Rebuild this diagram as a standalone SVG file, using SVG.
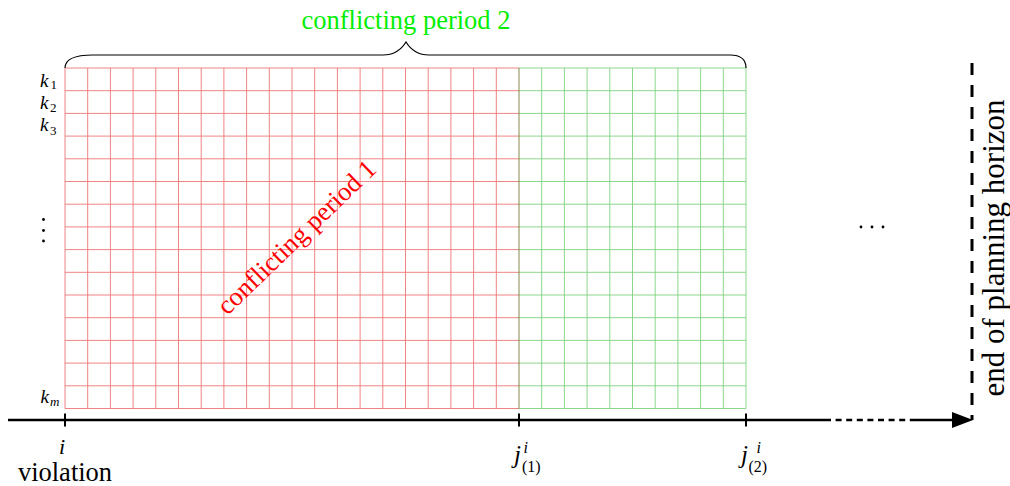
<svg xmlns="http://www.w3.org/2000/svg" width="1010" height="486" viewBox="0 0 1010 486">
<style>
text{font-family:"Liberation Serif","Times New Roman",serif;fill:#000}
.it{font-style:italic}
.rg{stroke:#ee7676;stroke-width:0.9;fill:none}
.gg{stroke:#7fd27f;stroke-width:0.9;fill:none}
.ax{stroke:#000;stroke-width:2.6;fill:none}
.tk{stroke:#000;stroke-width:2;fill:none}
</style>
<rect width="1010" height="486" fill="#fff"/>
<g id="grid-red">
<path class="rg" d="M65,68V408.5M87.7,68V408.5M110.4,68V408.5M133.1,68V408.5M155.8,68V408.5M178.5,68V408.5M201.2,68V408.5M223.9,68V408.5M246.6,68V408.5M269.3,68V408.5M292,68V408.5M314.7,68V408.5M337.4,68V408.5M360.1,68V408.5M382.8,68V408.5M405.5,68V408.5M428.2,68V408.5M450.9,68V408.5M473.6,68V408.5M496.3,68V408.5M65,68H519M65,90.7H519M65,113.4H519M65,136.1H519M65,158.8H519M65,181.5H519M65,204.2H519M65,226.9H519M65,249.6H519M65,272.3H519M65,295H519M65,317.7H519M65,340.4H519M65,363.1H519M65,385.8H519M65,408.5H519"/>
</g>
<g id="grid-green">
<path class="gg" d="M541.7,68V408.5M564.4,68V408.5M587.1,68V408.5M609.8,68V408.5M632.5,68V408.5M655.2,68V408.5M677.9,68V408.5M700.6,68V408.5M723.3,68V408.5M746,68V408.5M519,68H746M519,90.7H746M519,113.4H746M519,136.1H746M519,158.8H746M519,181.5H746M519,204.2H746M519,226.9H746M519,249.6H746M519,272.3H746M519,295H746M519,317.7H746M519,340.4H746M519,363.1H746M519,385.8H746M519,408.5H746"/>
<path d="M519,68V408.5" stroke="#7a7a3a" stroke-width="0.9"/>
</g>
<g id="brace">
<path d="M65,68 Q65,55 93,55 H383 Q398,55 406,42 Q414,55 429,55 H730 Q746,55 746,68" fill="none" stroke="#000" stroke-width="1.2"/>
</g>
<g id="labels-rows">
<text class="it" x="40" y="86.5" font-size="19">k</text><text x="50.5" y="88.5" font-size="13">1</text>
<text class="it" x="40" y="108.5" font-size="19">k</text><text x="50" y="111.5" font-size="13">2</text>
<text class="it" x="40" y="131" font-size="19">k</text><text x="50" y="135" font-size="13">3</text>
<text class="it" x="40.5" y="403.3" font-size="19">k</text><text class="it" x="50" y="405.5" font-size="13">m</text>
<circle cx="43.5" cy="219.5" r="1.4"/><circle cx="43.5" cy="230.5" r="1.4"/><circle cx="43.5" cy="241" r="1.4"/>
<circle cx="861" cy="227" r="1.4"/><circle cx="872" cy="227" r="1.4"/><circle cx="883" cy="227" r="1.4"/>
</g>
<g id="connectors">
<path class="ax" d="M8,420H825"/>
<path class="ax" d="M825,420H910" stroke-dasharray="6,4.6"/>
<path class="ax" d="M910,420H955"/>
<polygon points="952,412 973,420 952,428" fill="#000"/>
<path class="tk" d="M65,413.5V426.5M519,413.5V426.5M746,413.5V426.5"/>
<path d="M972,63V420" stroke="#000" stroke-width="3" stroke-dasharray="12,10" fill="none"/>
</g>
<g id="axis-labels">
<text class="it" x="62" y="454" font-size="22" text-anchor="middle">i</text>
<text x="65" y="481" font-size="26.5" text-anchor="middle">violation</text>
<text class="it" x="514" y="463" font-size="25">j</text>
<text class="it" x="523.5" y="452.5" font-size="16">i</text>
<text x="522" y="472" font-size="16">(1)</text>
<text class="it" x="741" y="463" font-size="25">j</text>
<text class="it" x="756.5" y="452.5" font-size="16">i</text>
<text x="748.5" y="472" font-size="16">(2)</text>
</g>
<g id="period-labels">
<text x="406" y="29" font-size="26.5" text-anchor="middle" style="fill:#00ee00">conflicting period 2</text>
<text transform="translate(302.5,243.5) rotate(-44)" x="0" y="0" font-size="26.5" text-anchor="middle" style="fill:#ff0000">conflicting period 1</text>
<text transform="translate(1004,248) rotate(-90)" x="0" y="0" font-size="31" text-anchor="middle">end of planning horizon</text>
</g>
</svg>
